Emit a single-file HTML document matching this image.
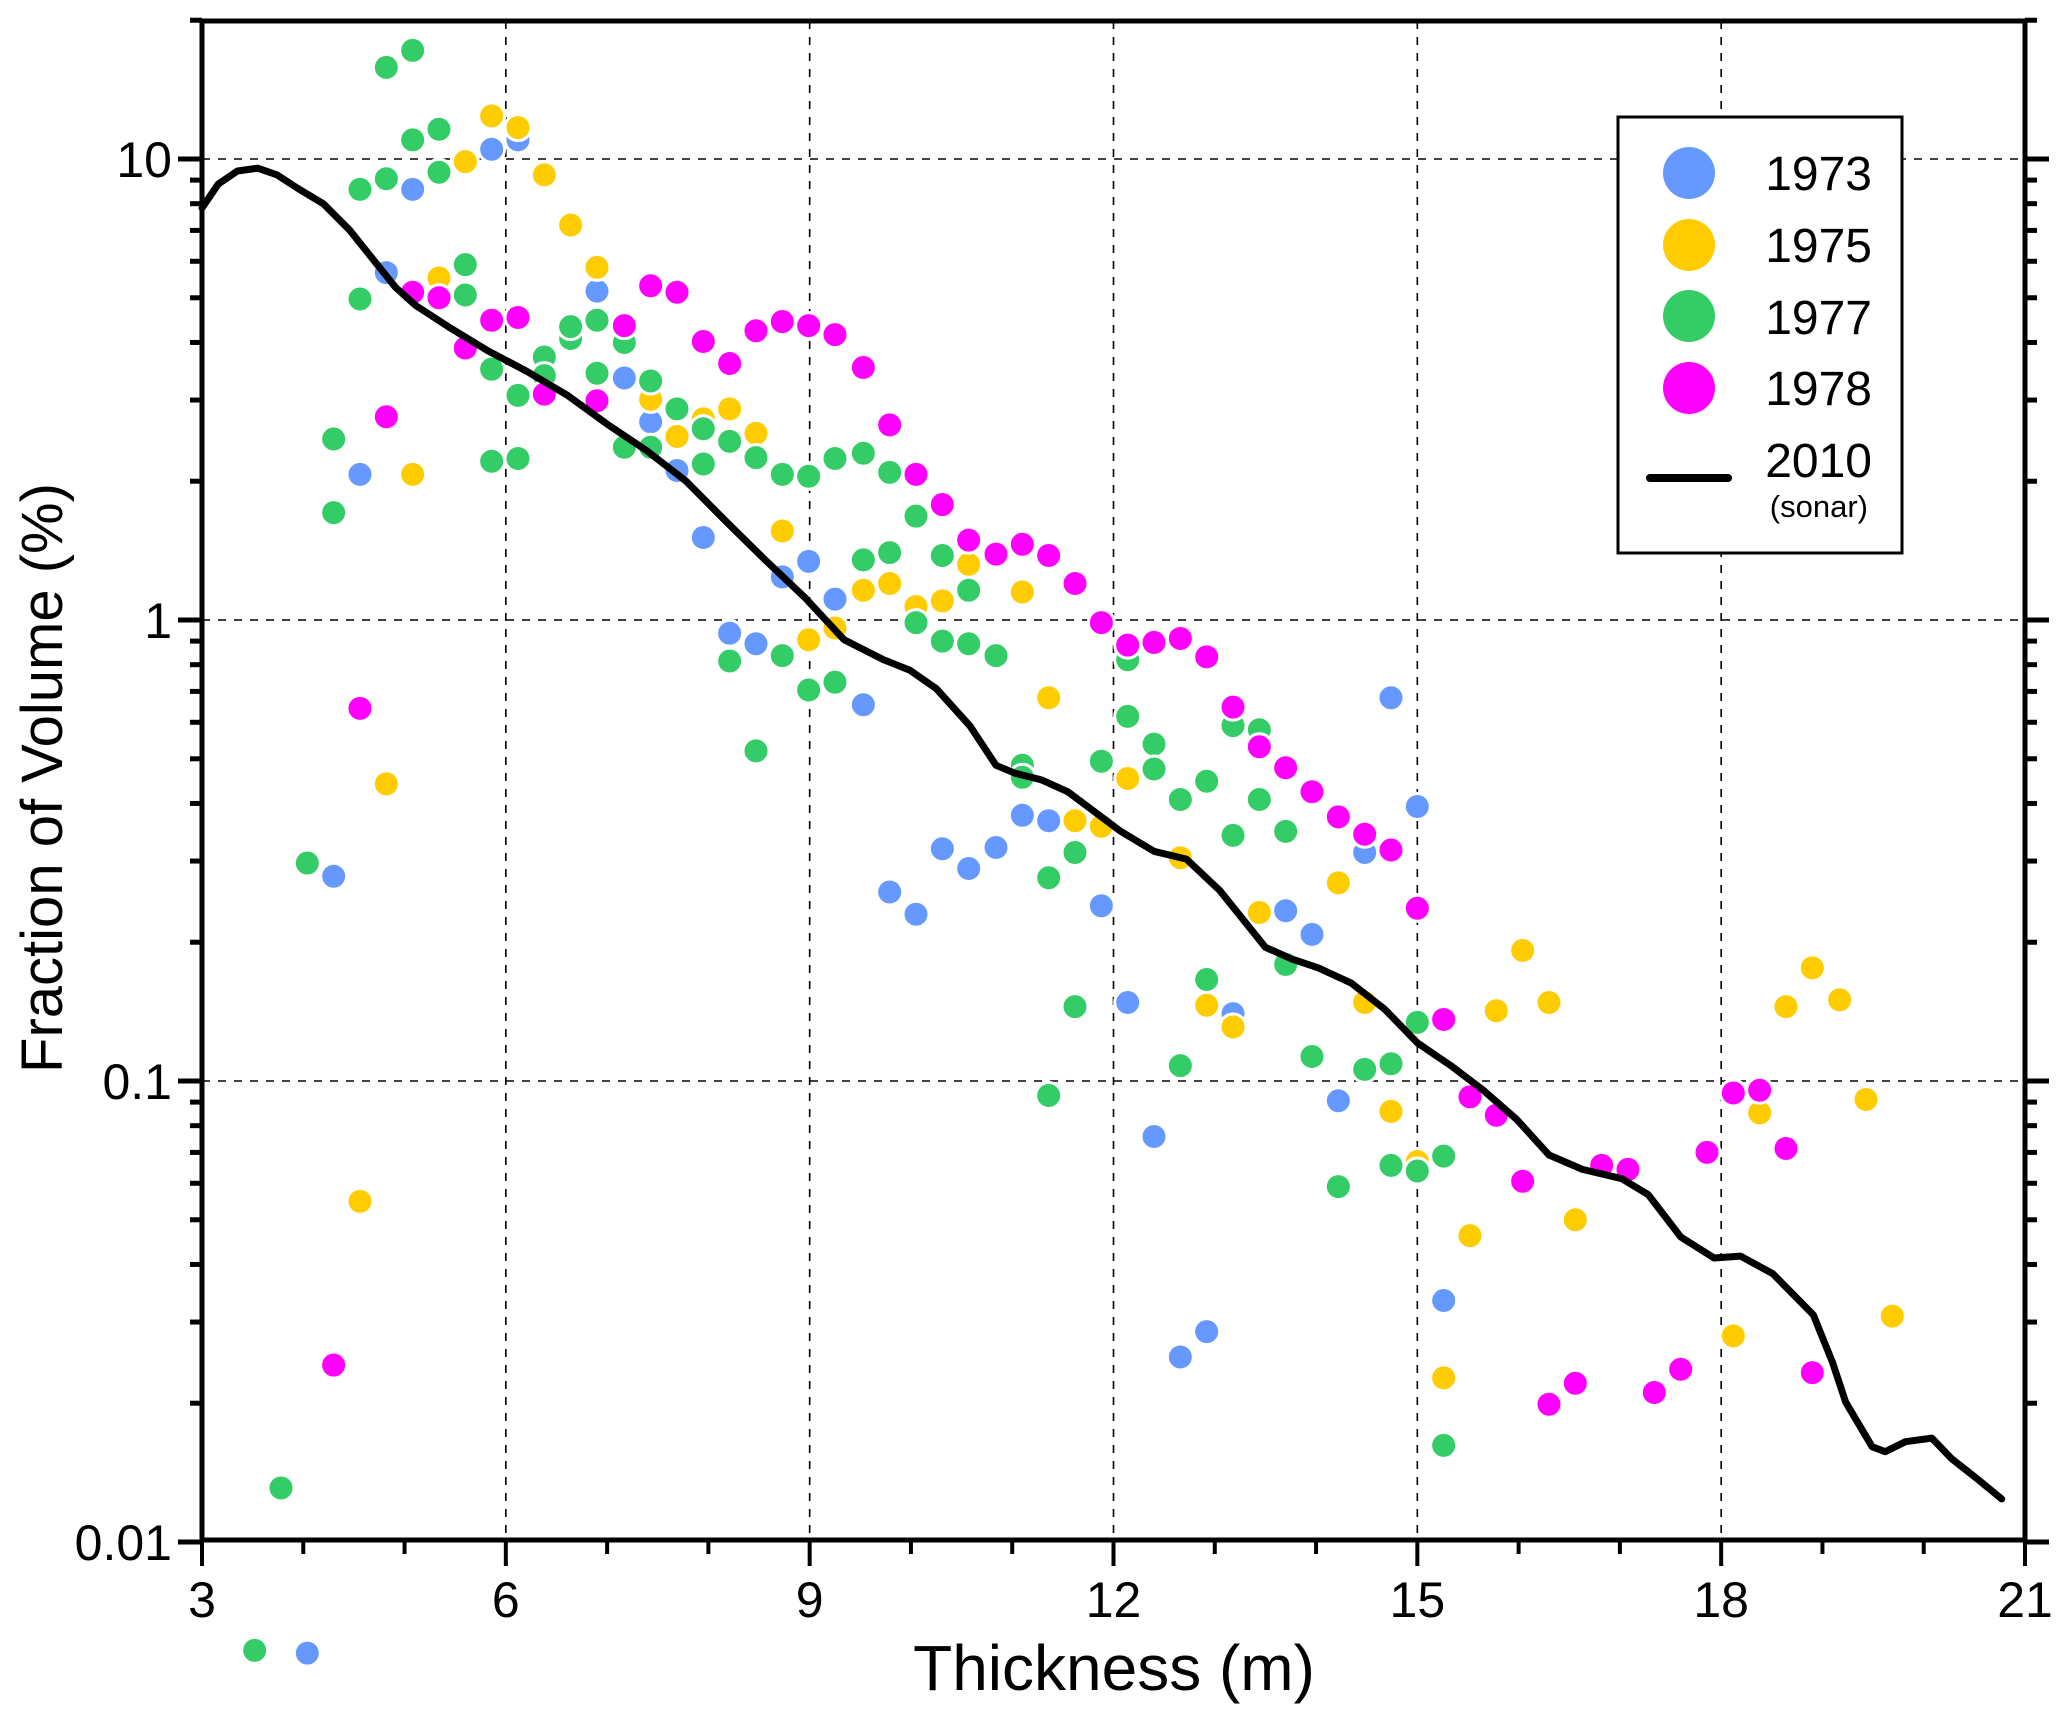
<!DOCTYPE html>
<html><head><meta charset="utf-8"><style>
html,body{margin:0;padding:0;background:#fff;}
svg{display:block;font-family:"Liberation Sans",Arial,sans-serif;}
</style></head><body>
<svg id="chart" width="2067" height="1722" viewBox="0 0 2067 1722" xmlns="http://www.w3.org/2000/svg">
<g id="grid"></g>
<g id="points"></g>
<g id="line"></g>
<g id="axes"></g>
<text x="1114" y="1690" font-size="64" text-anchor="middle">Thickness (m)</text>
<text transform="translate(62,778) rotate(-90)" font-size="58" text-anchor="middle">Fraction of Volume (%)</text>
<g>
<rect x="1618" y="117" width="284" height="436" fill="#fff" stroke="#000" stroke-width="3"/>
<circle cx="1689" cy="173" r="26" fill="#6699ff"/>
<text x="1872" y="190" font-size="48" text-anchor="end">1973</text>
<circle cx="1689" cy="245" r="26" fill="#ffcc00"/>
<text x="1872" y="262" font-size="48" text-anchor="end">1975</text>
<circle cx="1689" cy="316" r="26" fill="#33cc66"/>
<text x="1872" y="334" font-size="48" text-anchor="end">1977</text>
<circle cx="1689" cy="388" r="26" fill="#ff00ff"/>
<text x="1872" y="405" font-size="48" text-anchor="end">1978</text>
<line x1="1650" y1="478" x2="1728" y2="478" stroke="#000" stroke-width="8" stroke-linecap="round"/>
<text x="1872" y="477" font-size="48" text-anchor="end">2010</text>
<text x="1868" y="517" font-size="31" text-anchor="end">(sonar)</text>
</g>
</svg>
<script>
const xTicks = [3, 6, 9, 12, 15, 18, 21];
const yTicks = [0.01, 0.1, 1, 10];
const yTickLabels = ["0.01", "0.1", "1", "10"];

const x1973 = [4.04,4.30,4.56,4.82,5.08,5.86,6.12,6.90,7.17,7.43,7.69,7.95,8.21,8.47,8.73,8.99,9.25,9.53,9.79,10.05,10.31,10.57,10.84,11.10,11.36,11.88,12.14,12.40,12.66,12.92,13.18,13.70,13.96,14.22,14.48,14.74,15.00,15.26];
const y1973 = [0.00574,0.278,2.07,5.67,8.59,10.5,11.0,5.17,3.35,2.69,2.11,1.51,0.936,0.888,1.24,1.34,1.11,0.655,0.257,0.230,0.319,0.289,0.321,0.377,0.367,0.240,0.148,0.0758,0.0252,0.0286,0.140,0.234,0.208,0.0906,0.313,0.678,0.394,0.0334];

const x1975 = [4.56,4.82,5.08,5.34,5.60,5.86,6.12,6.38,6.64,6.90,7.43,7.69,7.95,8.21,8.47,8.73,8.99,9.25,9.53,9.79,10.05,10.31,10.57,11.10,11.36,11.62,11.88,12.14,12.66,12.92,13.18,13.44,14.22,14.48,14.74,15.00,15.26,15.52,15.78,16.04,16.30,16.56,18.12,18.38,18.64,18.90,19.17,19.43,19.69];
const y1975 = [0.0548,0.441,2.07,5.52,9.87,12.4,11.7,9.24,7.19,5.82,3.01,2.50,2.73,2.87,2.54,1.56,0.906,0.961,1.16,1.20,1.07,1.10,1.32,1.15,0.678,0.367,0.357,0.453,0.305,0.146,0.131,0.232,0.269,0.148,0.0859,0.0669,0.0227,0.0462,0.142,0.192,0.148,0.0500,0.0280,0.0853,0.145,0.176,0.150,0.0912,0.0309];

const x1977 = [3.52,3.78,4.04,4.30,4.30,4.56,4.56,4.82,4.82,5.08,5.08,5.34,5.34,5.60,5.60,5.86,5.86,6.12,6.12,6.38,6.38,6.64,6.64,6.90,6.90,7.17,7.17,7.43,7.43,7.69,7.95,7.95,8.21,8.21,8.47,8.47,8.73,8.73,8.99,8.99,9.25,9.25,9.53,9.53,9.79,9.79,10.05,10.05,10.31,10.31,10.57,10.57,10.84,11.10,11.10,11.36,11.36,11.62,11.62,11.88,12.14,12.14,12.40,12.40,12.66,12.66,12.92,12.92,13.18,13.18,13.44,13.44,13.70,13.70,13.96,14.22,14.48,14.74,14.74,15.00,15.00,15.26,15.26];
const y1977 = [0.00582,0.0131,0.297,1.71,2.47,4.97,8.59,9.06,15.8,11.0,17.2,11.6,9.36,5.90,5.07,3.50,2.21,3.07,2.24,3.72,3.39,4.08,4.33,3.43,4.47,4.00,2.37,3.30,2.37,2.87,2.60,2.18,2.44,0.815,2.25,0.520,2.07,0.837,2.05,0.705,2.24,0.733,1.35,2.30,1.40,2.09,1.68,0.987,1.38,0.900,1.16,0.888,0.837,0.484,0.456,0.276,0.0930,0.313,0.145,0.494,0.820,0.618,0.538,0.475,0.408,0.108,0.447,0.166,0.590,0.341,0.578,0.408,0.348,0.179,0.113,0.0590,0.106,0.109,0.0656,0.134,0.0638,0.0687,0.0162];

const x1978 = [4.30,4.56,4.82,5.08,5.34,5.60,5.86,6.12,6.38,6.90,7.17,7.43,7.69,7.95,8.21,8.47,8.73,8.99,9.25,9.53,9.79,10.05,10.31,10.57,10.84,11.10,11.36,11.62,11.88,12.14,12.40,12.66,12.92,13.18,13.44,13.70,13.96,14.22,14.48,14.74,15.00,15.26,15.52,15.78,16.04,16.30,16.56,16.82,17.08,17.34,17.60,17.86,18.12,18.38,18.64,18.90];
const y1978 = [0.0242,0.643,2.76,5.14,5.00,3.89,4.47,4.53,3.09,2.99,4.35,5.31,5.14,4.02,3.60,4.24,4.44,4.35,4.16,3.53,2.65,2.07,1.78,1.49,1.39,1.46,1.38,1.20,0.987,0.882,0.894,0.912,0.832,0.647,0.531,0.478,0.424,0.374,0.343,0.317,0.237,0.136,0.0924,0.0843,0.0606,0.0199,0.0221,0.0656,0.0643,0.0211,0.0237,0.070,0.0942,0.0955,0.0714,0.0233];

const x2010 = [3.00,3.16,3.35,3.55,3.74,3.94,4.20,4.46,4.72,4.91,5.11,5.43,5.82,6.21,6.61,7.00,7.39,7.78,8.17,8.56,8.95,9.34,9.73,9.99,10.25,10.58,10.84,11.03,11.29,11.55,11.81,12.07,12.40,12.72,13.05,13.50,13.76,14.02,14.35,14.68,15.00,15.33,15.65,15.98,16.30,16.63,17.02,17.28,17.60,17.93,18.19,18.51,18.91,19.10,19.23,19.49,19.62,19.82,20.08,20.27,20.53,20.77];
const y2010 = [7.83,8.82,9.42,9.55,9.24,8.65,7.99,7.00,5.94,5.27,4.81,4.33,3.84,3.46,3.07,2.66,2.33,2.00,1.64,1.35,1.12,0.906,0.820,0.778,0.710,0.590,0.484,0.465,0.450,0.424,0.384,0.348,0.315,0.303,0.259,0.195,0.184,0.176,0.163,0.143,0.121,0.108,0.0955,0.0826,0.0691,0.0643,0.0614,0.0567,0.0459,0.0413,0.0417,0.0382,0.0311,0.0245,0.0201,0.0161,0.0157,0.0165,0.0168,0.0152,0.0137,0.0124];

const L=202,R=2025,T=21,B=1540;
function xs(v){return L+(v-3)*(R-L)/18;}
function ys(v){return 159+(1-Math.log10(v))*461;}
const NS="http://www.w3.org/2000/svg";
function mk(tag,attrs,parent){const e=document.createElementNS(NS,tag);for(const k in attrs)e.setAttribute(k,attrs[k]);parent.appendChild(e);return e;}
const grid=document.getElementById('grid'),axes=document.getElementById('axes'),pts=document.getElementById('points'),lineG=document.getElementById('line');

xTicks.forEach(function(t){
  if(t>3&&t<21){
    const g=mk('line',{x1:xs(t),x2:xs(t),y1:T,y2:B,stroke:'#000','stroke-width':1.6,'stroke-dasharray':'8 8'},grid);
    
    
  }
  const tk=mk('line',{x1:xs(t),x2:xs(t),y1:B,y2:B+26,stroke:'#000','stroke-width':4},axes);
  
  
  const lb=mk('text',{x:xs(t),y:1617,'font-size':50,'text-anchor':'middle'},axes);
  lb.textContent=String(t);
  
  
});
for(let m=4;m<21;m++){
  if(m%3===0)continue;
  const tk=mk('line',{x1:xs(m),x2:xs(m),y1:B,y2:B+14,stroke:'#000','stroke-width':4},axes);
  
  
}
yTicks.forEach(function(t,i){
  const y=ys(t);
  if(t>0.01){
    const g=mk('line',{x1:L,x2:R,y1:y,y2:y,stroke:'#000','stroke-width':1.6,'stroke-dasharray':'8 8'},grid);
    
    
  }
  const t1=mk('line',{x1:L-24,x2:L,y1:y,y2:y,stroke:'#000','stroke-width':5},axes);
  
  
  const t2=mk('line',{x1:R,x2:R+24,y1:y,y2:y,stroke:'#000','stroke-width':5},axes);
  
  
  const lb=mk('text',{x:172,y:y+18,'font-size':50,'text-anchor':'end'},axes);
  lb.textContent=yTickLabels[i];
  
  
  for(let k=2;k<=9;k++){
    const v=t*k; if(v>20)continue;
    const yy=ys(v);
    const m1=mk('line',{x1:L-12,x2:L,y1:yy,y2:yy,stroke:'#000','stroke-width':5},axes);
    
    
    const m2=mk('line',{x1:R,x2:R+12,y1:yy,y2:yy,stroke:'#000','stroke-width':5},axes);
    
    
  }
});
const frame=mk('rect',{x:L,y:T,width:R-L,height:B-T,fill:'none',stroke:'#000','stroke-width':5},axes);



const series=[[x1973,y1973,'#6699ff','1973'],[x1975,y1975,'#ffcc00','1975'],[x1977,y1977,'#33cc66','1977'],[x1978,y1978,'#ff00ff','1978']];
series.forEach(function(s){
  s[0].forEach(function(xv,i){
    const c=mk('circle',{cx:xs(xv),cy:ys(s[1][i]),r:13,fill:s[2],stroke:'#fff','stroke-width':3},pts);
    
    
  });
});
let d='';
x2010.forEach(function(xv,i){d+=(i?'L':'M')+xs(xv).toFixed(1)+','+ys(y2010[i]).toFixed(1);});
const p=mk('path',{d:d,fill:'none',stroke:'#000','stroke-width':7,'stroke-linejoin':'round','stroke-linecap':'round'},lineG);


</script>
</body></html>
